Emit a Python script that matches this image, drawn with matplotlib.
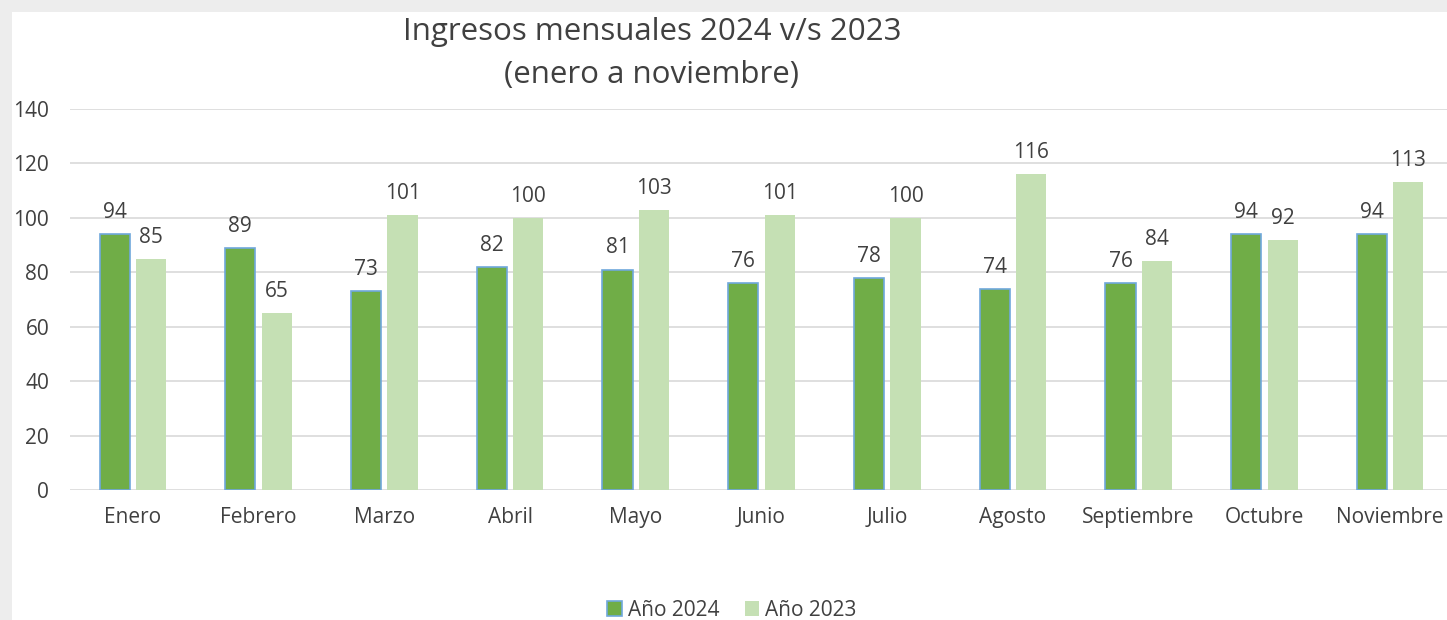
import matplotlib.pyplot as plt
import matplotlib.patches as mpatches
import numpy as np

# Data
meses = ['Enero', 'Febrero', 'Marzo', 'Abril', 'Mayo', 'Junio', 'Julio',
         'Agosto', 'Septiembre', 'Octubre', 'Noviembre']
ingresos_2024 = [94, 89, 73, 82, 81, 76, 78, 74, 76, 94, 94]
ingresos_2023 = [85, 65, 101, 100, 103, 101, 100, 116, 84, 92, 113]

plt.rcParams['font.family'] = ['Open Sans', 'DejaVu Sans']

fig = plt.figure(figsize=(14.47, 6.2), dpi=100)
fig.patch.set_facecolor('#EDEDED')
# white chart area (screenshot has a light grey edge top and left)
fig.patches.append(mpatches.Rectangle((12 / 1447, 0), 1, 1 - 12 / 620,
                                      transform=fig.transFigure,
                                      facecolor='white', edgecolor='none', zorder=-10))

ax = fig.add_axes([70 / 1447, 1 - 490 / 620, 1383 / 1447, 381 / 620])
ax.set_facecolor('none')

x = np.arange(len(meses))
w = 0.24
gap = 0.05
b1 = ax.bar(x - (w + gap) / 2, ingresos_2024, width=w, color='#70AD47',
            edgecolor='#6FA8DC', linewidth=1.2, zorder=3, label='Año 2024')
b2 = ax.bar(x + (w + gap) / 2, ingresos_2023, width=w, color='#C5E0B4',
            edgecolor='none', zorder=3, label='Año 2023')

for bars, vals in [(b1, ingresos_2024), (b2, ingresos_2023)]:
    for bar, v in zip(bars, vals):
        ax.annotate(str(v), (bar.get_x() + bar.get_width() / 2, v),
                    xytext=(0, 8), textcoords='offset points',
                    ha='center', va='bottom', fontsize=15, color='#404040')

ax.set_xlim(-0.5, len(meses) - 0.5)
ax.set_ylim(0, 140)
ax.set_yticks(range(0, 141, 20))
ax.set_xticks(x)
ax.set_xticklabels(meses)
ax.grid(axis='y', color='#D9D9D9', linewidth=1.2, zorder=0)
for s in ax.spines.values():
    s.set_visible(False)
ax.tick_params(axis='both', length=0, labelsize=15, labelcolor='#404040')
ax.tick_params(axis='x', pad=12)
ax.tick_params(axis='y', pad=15)

fig.text(652 / 1447, 1 - 32 / 620, 'Ingresos mensuales 2024 v/s 2023',
         ha='center', va='center', fontsize=22.5, color='#404040')
fig.text(652 / 1447, 1 - 75 / 620, '(enero a noviembre)',
         ha='center', va='center', fontsize=22.5, color='#404040')

fig.legend(handles=[b1, b2], loc='center', bbox_to_anchor=(732 / 1447, 10 / 620),
           ncol=2, frameon=False, fontsize=15, handlelength=0.7, handleheight=0.7,
           handletextpad=0.3, columnspacing=1.2, labelcolor='#404040')

plt.savefig('out.png', dpi=100)
